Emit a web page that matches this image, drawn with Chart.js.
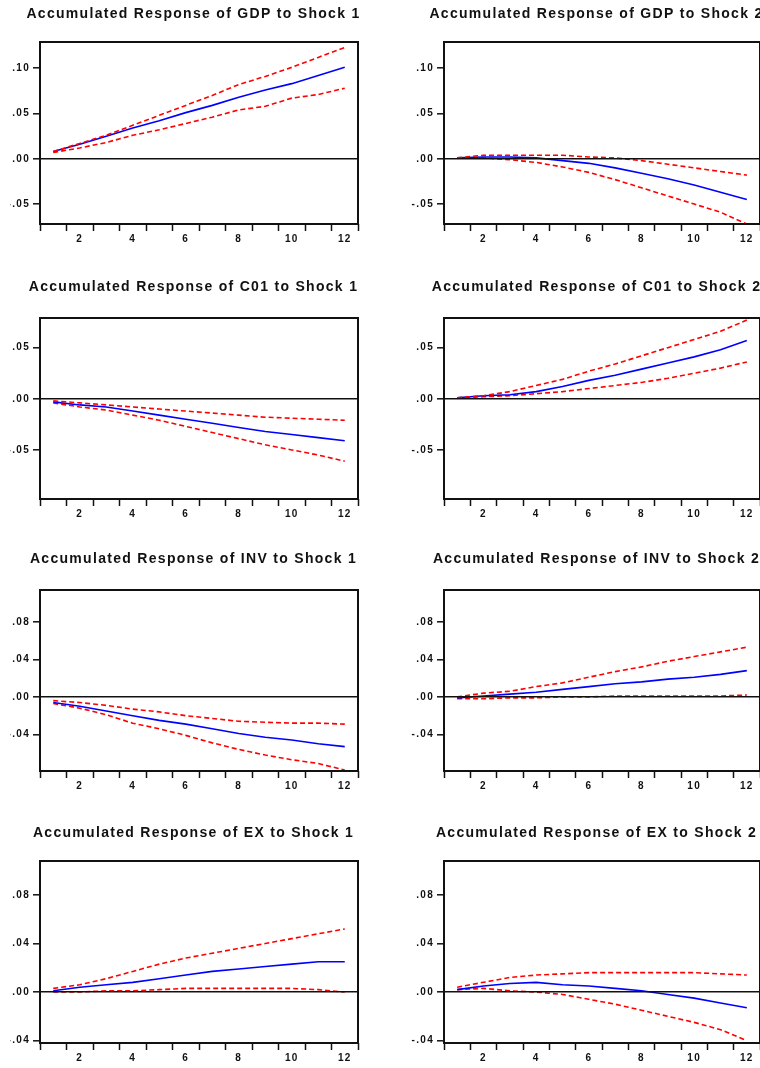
<!DOCTYPE html>
<html>
<head>
<meta charset="utf-8">
<script src="https://cdn.jsdelivr.net/npm/chart.js@4.4.1/dist/chart.umd.min.js"></script>
<style>
  html, body { margin: 0; padding: 0; background: #fff; overflow: hidden; }
  /* the reference is cropped 10px into the left column (the minus signs are cut) */
  #crop { position: absolute; left: 10px; top: 0; width: 750px; height: 1068px; overflow: hidden; }
  #crop canvas { position: absolute; }
</style>
</head>
<body>
<div id="crop"></div>
<script>
// Accumulated impulse responses, periods 1..12
var periods = ["1", "2", "3", "4", "5", "6", "7", "8", "9", "10", "11", "12"];

var gdp1Mid = [0.008, 0.016, 0.025, 0.034, 0.042, 0.051, 0.059, 0.068, 0.076, 0.083, 0.092, 0.101];
var gdp1Up  = [0.008, 0.017, 0.026, 0.037, 0.048, 0.059, 0.070, 0.082, 0.091, 0.101, 0.112, 0.123];
var gdp1Lo  = [0.007, 0.012, 0.018, 0.026, 0.032, 0.039, 0.046, 0.054, 0.058, 0.067, 0.071, 0.078];

var gdp2Mid = [0.001, 0.002, 0.002, 0.001, -0.002, -0.005, -0.010, -0.016, -0.022, -0.029, -0.037, -0.045];
var gdp2Up  = [0.001, 0.004, 0.004, 0.004, 0.004, 0.002, 0.001, -0.002, -0.006, -0.010, -0.014, -0.018];
var gdp2Lo  = [0.001, 0.001, -0.001, -0.004, -0.009, -0.015, -0.023, -0.032, -0.041, -0.050, -0.059, -0.072];

var c011Mid = [-0.003, -0.006, -0.008, -0.012, -0.016, -0.020, -0.024, -0.028, -0.032, -0.035, -0.038, -0.041];
var c011Up  = [-0.002, -0.004, -0.006, -0.008, -0.010, -0.012, -0.014, -0.016, -0.018, -0.019, -0.020, -0.021];
var c011Lo  = [-0.004, -0.008, -0.011, -0.016, -0.021, -0.027, -0.033, -0.039, -0.045, -0.050, -0.055, -0.061];

var c012Mid = [0.001, 0.003, 0.004, 0.007, 0.012, 0.018, 0.023, 0.029, 0.035, 0.041, 0.048, 0.057];
var c012Up  = [0.001, 0.003, 0.007, 0.013, 0.019, 0.027, 0.034, 0.042, 0.050, 0.058, 0.066, 0.077];
var c012Lo  = [0.001, 0.002, 0.003, 0.005, 0.007, 0.010, 0.013, 0.016, 0.020, 0.025, 0.030, 0.036];

var inv1Mid = [-0.006, -0.010, -0.015, -0.020, -0.025, -0.029, -0.034, -0.039, -0.043, -0.046, -0.050, -0.053];
var inv1Up  = [-0.004, -0.006, -0.009, -0.013, -0.016, -0.020, -0.023, -0.026, -0.027, -0.028, -0.028, -0.029];
var inv1Lo  = [-0.007, -0.012, -0.019, -0.028, -0.034, -0.041, -0.049, -0.056, -0.062, -0.067, -0.071, -0.078];

var inv2Mid = [-0.001, 0.001, 0.003, 0.005, 0.008, 0.011, 0.014, 0.016, 0.019, 0.021, 0.024, 0.028];
var inv2Up  = [0.000, 0.004, 0.006, 0.011, 0.015, 0.021, 0.027, 0.032, 0.038, 0.043, 0.048, 0.053];
var inv2Lo  = [-0.002, -0.002, -0.001, -0.001, 0.000, 0.000, 0.001, 0.001, 0.001, 0.001, 0.001, 0.002];

var ex1Mid = [0.001, 0.004, 0.006, 0.008, 0.011, 0.014, 0.017, 0.019, 0.021, 0.023, 0.025, 0.025];
var ex1Up  = [0.003, 0.006, 0.011, 0.017, 0.023, 0.028, 0.032, 0.036, 0.040, 0.044, 0.048, 0.052];
var ex1Lo  = [0.000, 0.000, 0.001, 0.001, 0.002, 0.003, 0.003, 0.003, 0.003, 0.003, 0.002, 0.000];

var ex2Mid = [0.002, 0.005, 0.007, 0.008, 0.006, 0.005, 0.003, 0.001, -0.002, -0.005, -0.009, -0.013];
var ex2Up  = [0.004, 0.008, 0.012, 0.014, 0.015, 0.016, 0.016, 0.016, 0.016, 0.016, 0.015, 0.014];
var ex2Lo  = [0.002, 0.003, 0.001, 0.000, -0.002, -0.006, -0.010, -0.015, -0.020, -0.025, -0.031, -0.040];

// y axis per response variable (one row each)
var gdpRange = [-0.072, 0.129], gdpTicks = [-0.05, 0, 0.05, 0.10];
var c01Range = [-0.098, 0.079], c01Ticks = [-0.05, 0, 0.05];
var invRange = [-0.079, 0.114], invTicks = [-0.04, 0, 0.04, 0.08];
var exRange  = [-0.042, 0.108], exTicks  = [-0.04, 0, 0.04, 0.08];

var BLUE = "#0000ff";
var RED = "#ff0000";
var INK = "#111111";
var FONT = "'Liberation Sans', Arial, sans-serif";

// layout of the 4x2 grid (page pixels): title centre, plot top, plot bottom
var ROWS = [
  { title: 14, top: 42, bottom: 224 },
  { title: 287, top: 318, bottom: 499 },
  { title: 559, top: 590, bottom: 771 },
  { title: 833, top: 861, bottom: 1043 }
];
var COLS = [
  { x: 0, yAxis: 40, pad: 29 },
  { x: 403, yAxis: 41, pad: 30 }
];
var CANVAS_W = 387;
var XAXIS_H = 24;

var panels = [
  { row: 0, col: 0, title: "Accumulated Response of GDP to Shock 1", mid: gdp1Mid, up: gdp1Up, lo: gdp1Lo, range: gdpRange, ticks: gdpTicks },
  { row: 0, col: 1, title: "Accumulated Response of GDP to Shock 2", mid: gdp2Mid, up: gdp2Up, lo: gdp2Lo, range: gdpRange, ticks: gdpTicks },
  { row: 1, col: 0, title: "Accumulated Response of C01 to Shock 1", mid: c011Mid, up: c011Up, lo: c011Lo, range: c01Range, ticks: c01Ticks },
  { row: 1, col: 1, title: "Accumulated Response of C01 to Shock 2", mid: c012Mid, up: c012Up, lo: c012Lo, range: c01Range, ticks: c01Ticks },
  { row: 2, col: 0, title: "Accumulated Response of INV to Shock 1", mid: inv1Mid, up: inv1Up, lo: inv1Lo, range: invRange, ticks: invTicks },
  { row: 2, col: 1, title: "Accumulated Response of INV to Shock 2", mid: inv2Mid, up: inv2Up, lo: inv2Lo, range: invRange, ticks: invTicks },
  { row: 3, col: 0, title: "Accumulated Response of EX to Shock 1", mid: ex1Mid, up: ex1Up, lo: ex1Lo, range: exRange, ticks: exTicks },
  { row: 3, col: 1, title: "Accumulated Response of EX to Shock 2", mid: ex2Mid, up: ex2Up, lo: ex2Lo, range: exRange, ticks: exTicks }
];

// EViews style labels: .10 / .00 / -.05
function fmt(v) {
  return v.toFixed(2).replace(/^(-?)0\./, "$1.");
}

var spacing = {
  id: "spacing",
  beforeDraw: function (chart) { chart.ctx.letterSpacing = "1.3px"; }
};

var frame = {
  id: "frame",
  afterDraw: function (chart) {
    var a = chart.chartArea, ctx = chart.ctx;
    ctx.save();
    ctx.strokeStyle = INK;
    ctx.lineWidth = 2;
    ctx.strokeRect(a.left, a.top, a.right - a.left, a.bottom - a.top);
    ctx.restore();
  }
};

function band(data, color, dashed) {
  return {
    data: data,
    borderColor: color,
    borderWidth: 1.6,
    borderDash: dashed ? [5, 3] : [],
    pointRadius: 0,
    tension: 0,
    fill: false,
    yAxisID: "y",
    xAxisID: "x"
  };
}

var crop = document.getElementById("crop");

panels.forEach(function (p) {
  var r = ROWS[p.row], c = COLS[p.col];
  var padTop = 4;
  var canvasTop = r.title - 9 - padTop;
  var padBottom = r.top - r.title - 9;
  var canvas = document.createElement("canvas");
  canvas.width = CANVAS_W;
  canvas.height = r.bottom + XAXIS_H - canvasTop;
  canvas.style.left = (c.x - 10) + "px";
  canvas.style.top = canvasTop + "px";
  crop.appendChild(canvas);

  new Chart(canvas, {
    type: "line",
    data: {
      labels: periods,
      datasets: [band(p.up, RED, true), band(p.mid, BLUE, false), band(p.lo, RED, true)]
    },
    options: {
      responsive: false,
      animation: false,
      events: [],
      layout: { padding: 0 },
      plugins: {
        legend: { display: false },
        tooltip: { enabled: false },
        title: {
          display: true,
          text: p.title,
          color: INK,
          font: { family: FONT, size: 14, weight: "bold", lineHeight: 18 / 14 },
          padding: { top: padTop, bottom: padBottom }
        }
      },
      scales: {
        x: {
          type: "category",
          offset: true,
          border: { display: false },
          grid: { offset: true, drawOnChartArea: false, drawTicks: true, tickLength: 7, tickColor: INK, tickWidth: 1.5 },
          ticks: {
            autoSkip: false,
            maxRotation: 0,
            padding: 2,
            color: INK,
            font: { family: FONT, size: 10, weight: "bold" },
            callback: function (v, i) { return i % 2 === 1 ? this.getLabelForValue(v) : ""; }
          },
          afterFit: function (s) { s.height = XAXIS_H; }
        },
        y: {
          min: p.range[0],
          max: p.range[1],
          afterBuildTicks: function (s) { s.ticks = p.ticks.map(function (v) { return { value: v }; }); },
          border: { display: false },
          grid: {
            z: 1,
            drawTicks: true,
            tickLength: 7,
            tickColor: INK,
            tickWidth: 1.5,
            lineWidth: 1.6,
            color: function (ctx) { return ctx.tick && ctx.tick.value === 0 ? INK : "rgba(0,0,0,0)"; }
          },
          ticks: { padding: 3, color: INK, font: { family: FONT, size: 10, weight: "bold" }, callback: function (v) { return fmt(v); } },
          afterFit: function (s) { s.width = c.yAxis; }
        },
        pad: {
          type: "linear",
          position: "right",
          display: true,
          border: { display: false },
          grid: { display: false },
          ticks: { display: false },
          afterFit: function (s) { s.width = c.pad; }
        }
      }
    },
    plugins: [spacing, frame]
  });
});
</script>
</body>
</html>
